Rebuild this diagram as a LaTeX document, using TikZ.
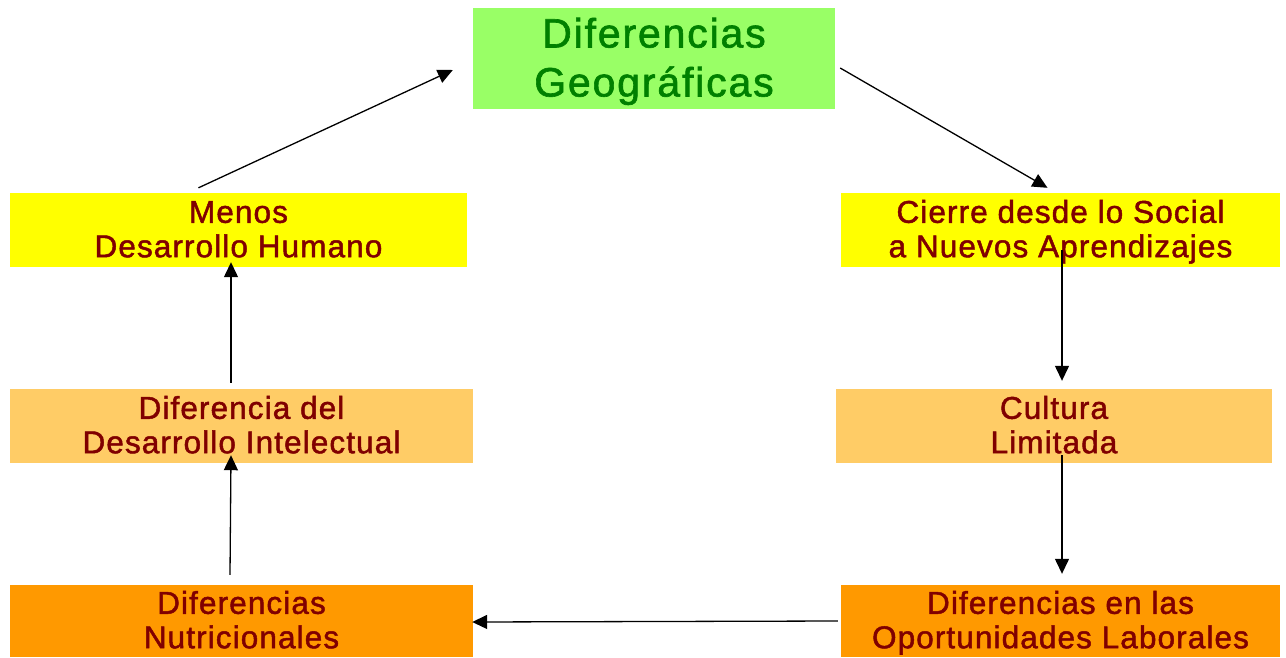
\documentclass[tikz,border=0pt]{standalone}
\usepackage{fontspec}
\setmainfont{Liberation Sans}
\newfontfamily\cajafont{Liberation Sans}[LetterSpace=3.5, FakeBold=1.5]
\newfontfamily\titulofont{Liberation Sans}[LetterSpace=4.5, FakeBold=1.5]
\usetikzlibrary{arrows.meta}
\definecolor{geoFill}{HTML}{99FF66}
\definecolor{geoText}{HTML}{008000}
\definecolor{amarillo}{HTML}{FFFF00}
\definecolor{naranjaClaro}{HTML}{FFCC66}
\definecolor{naranja}{HTML}{FF9900}
\definecolor{granate}{HTML}{800000}
% dos renglones con altura fija
\newcommand{\renglones}[2]{\rule{0pt}{27pt}#1\\#2\rule[-7pt]{0pt}{7pt}}
\begin{document}
\begin{tikzpicture}[x=1pt, y=-1pt,
    box/.style={inner sep=0pt, align=center, text=granate,
        font=\cajafont\fontsize{31.5}{34.4}\selectfont, minimum height=74pt},
    link/.style={-{Triangle[length=15pt,width=14pt]}, line width=1.3pt, black}]
    \useasboundingbox (0,0) rectangle (1286,657);
    % Titulo
    \node[box, fill=geoFill, text=geoText, minimum width=362pt, minimum height=98pt,
        font=\titulofont\fontsize{41}{49}\selectfont] (geo) at (654,58)
        {\rule{0pt}{40pt}Diferencias\\Geográficas\rule[-12pt]{0pt}{12pt}};
    % Columna izquierda
    \node[box, fill=amarillo, minimum width=457pt] (menos) at (238.5,230) {\renglones{Menos}{Desarrollo Humano}};
    \node[box, fill=naranjaClaro, minimum width=463pt] (intelecto) at (241.5,426) {\renglones{Diferencia del}{Desarrollo Intelectual}};
    \node[box, fill=naranja, minimum width=463pt, minimum height=72pt] (nutri) at (241.5,621) {\renglones{Diferencias}{Nutricionales}};
    % Columna derecha
    \node[box, fill=amarillo, minimum width=439pt] (cierre) at (1060.5,230) {\renglones{Cierre desde lo Social}{a Nuevos Aprendizajes}};
    \node[box, fill=naranjaClaro, minimum width=436pt] (cultura) at (1054,426) {\renglones{Cultura}{Limitada}};
    \node[box, fill=naranja, minimum width=439pt, minimum height=72pt] (oport) at (1060.5,621) {\renglones{Diferencias en las}{Oportunidades Laborales}};
    % Flechas
    \draw[link] ([shift={(-40,-5)}]menos.north) -- ([shift={(-20,12)}]geo.west);
    \draw[link] ([shift={(5,10)}]geo.east) -- ([shift={(-13,-5)}]cierre.north);
    \draw[link] ([shift={(1.5,20)}]cierre.center) -- ([shift={(8,-8)}]cultura.north);
    \draw[link] ([shift={(8,29)}]cultura.center) -- ([shift={(1.5,-11)}]oport.north);
    \draw[link] ([shift={(-3,0)}]oport.west) -- ([shift={(-1,1)}]nutri.east);
    \draw[link] ([shift={(-11.5,-10)}]nutri.north) -- ([shift={(-10.5,-8)}]intelecto.south);
    \draw[link] ([shift={(-10.5,-6)}]intelecto.north) -- ([shift={(-7.5,-5)}]menos.south);
\end{tikzpicture}
\end{document}
